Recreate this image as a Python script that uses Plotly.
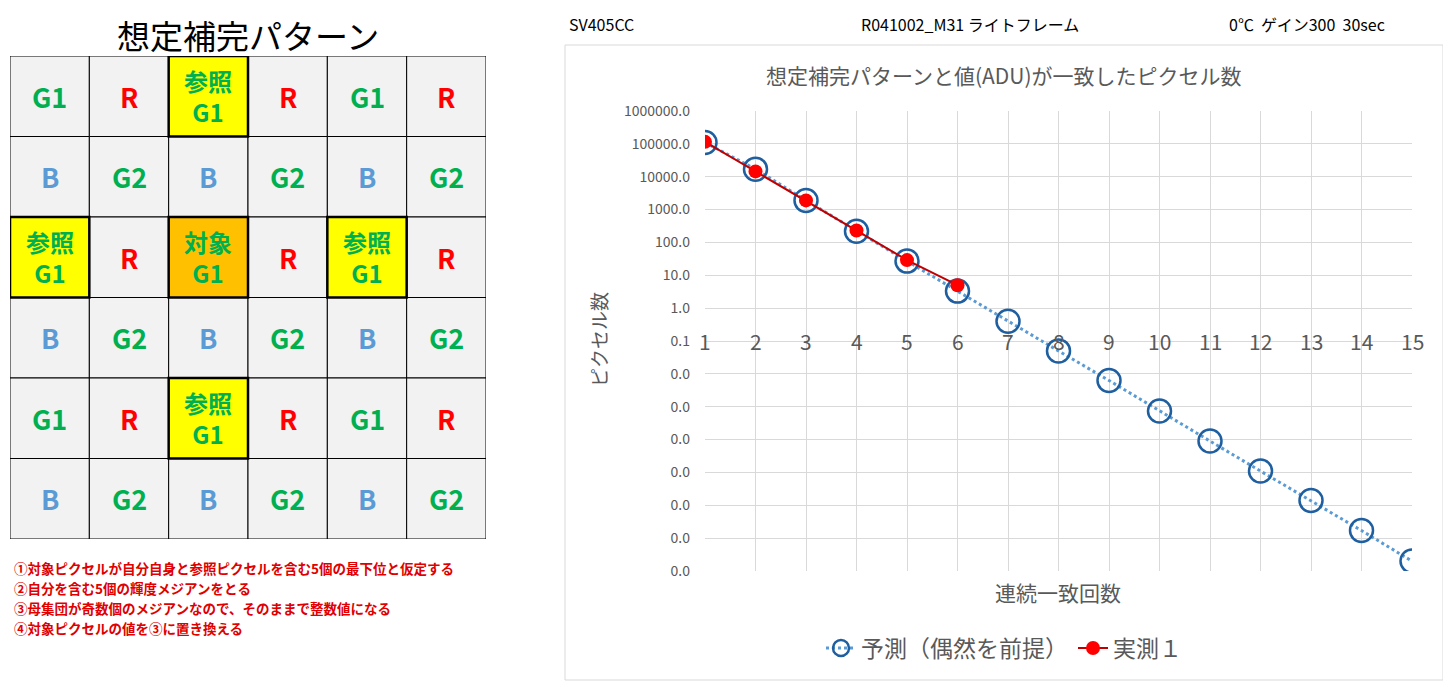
import plotly.graph_objects as go

# ---- data ----
x_counts = list(range(1, 16))
predicted = [110000, 17000, 1900, 220, 27, 3.3, 0.4, 0.05, 0.0063, 0.00074,
             0.00009, 0.000011, 0.0000014, 0.00000017, 0.00000002]
measured_x = [1, 2, 3, 4, 5, 6]
measured = [115000, 14500, 1900, 230, 29, 5]
y_tickvals = [1e6, 1e5, 1e4, 1e3, 1e2, 1e1, 1, 0.1, 0.01, 1e-3, 1e-4, 1e-5, 1e-6, 1e-7, 1e-8]
y_ticktext = ["1000000.0", "100000.0", "10000.0", "1000.0", "100.0", "10.0", "1.0", "0.1",
              "0.0", "0.0", "0.0", "0.0", "0.0", "0.0", "0.0"]

grid_labels = [
    ["G1", "R", "参照<br>G1", "R", "G1", "R"],
    ["B", "G2", "B", "G2", "B", "G2"],
    ["参照<br>G1", "R", "対象<br>G1", "R", "参照<br>G1", "R"],
    ["B", "G2", "B", "G2", "B", "G2"],
    ["G1", "R", "参照<br>G1", "R", "G1", "R"],
    ["B", "G2", "B", "G2", "B", "G2"],
]
notes = ["①対象ピクセルが自分自身と参照ピクセルを含む5個の最下位と仮定する",
         "②自分を含む5個の輝度メジアンをとる",
         "③母集団が奇数個のメジアンなので、そのままで整数値になる",
         "④対象ピクセルの値を③に置き換える"]

W, H = 1451, 690
OFF = 8  # page body margin
FONT = "Noto Sans CJK JP"
GRAY = "#595959"

def px(X):
    return (X - OFF) / W

def py(Y):
    return 1 - (Y - OFF) / H

fig = go.Figure()
fig.add_trace(go.Scatter(x=x_counts, y=predicted, name="予測（偶然を前提）", mode="lines+markers",
                         line=dict(color="#5b9bd5", width=3, dash="dot"),
                         marker=dict(symbol="circle-open", size=23, color="#1f5fa0", line=dict(width=2.5))))
fig.add_trace(go.Scatter(x=measured_x, y=measured, name="実測１", mode="lines+markers",
                         line=dict(color="#c00000", width=2),
                         marker=dict(symbol="circle", size=14, color="#ff0000")))

shapes = []
ann = []
shapes.append(dict(type="rect", xref="paper", yref="paper", x0=px(565), x1=px(1443),
                   y0=py(680), y1=py(45), line=dict(color="#d9d9d9", width=1), layer="below"))
for v in x_counts:
    ann.append(dict(x=v, y=-1, xref="x", yref="y", text=str(v), showarrow=False,
                    font=dict(size=21, color=GRAY, family=FONT)))

def style(lbl):
    if "対象" in lbl:
        return "#ffc000", "#00b050", True
    if "参照" in lbl:
        return "#ffff00", "#00b050", True
    if lbl.startswith("G"):
        return "#f2f2f2", "#00b050", False
    if lbl == "R":
        return "#f2f2f2", "#ff0000", False
    return "#f2f2f2", "#5b9bd5", False

for bold_pass in (False, True):
    for r, row in enumerate(grid_labels):
        for c, lbl in enumerate(row):
            fill, tc, bold = style(lbl)
            if bold != bold_pass:
                continue
            shapes.append(dict(type="rect", xref="x2", yref="y2", x0=c, x1=c+1, y0=r, y1=r+1,
                               fillcolor=fill, line=dict(color="#000000", width=2.5 if bold else 1),
                               layer="below"))
for r, row in enumerate(grid_labels):
    for c, lbl in enumerate(row):
        fill, tc, bold = style(lbl)
        two = "<br>" in lbl
        ann.append(dict(x=c+0.5, y=r+0.5, xref="x2", yref="y2", text="<b>%s</b>" % lbl, showarrow=False,
                        font=dict(size=24 if two else 27, color=tc, family=FONT)))

def pa(x, y, text, size, color="#000000", xanchor="center", **kw):
    ann.append(dict(x=px(x), y=py(y), xref="paper", yref="paper", text=text, showarrow=False,
                    xanchor=xanchor, yanchor="middle", font=dict(size=size, color=color, family=FONT), **kw))

pa(248, 35, "想定補完パターン", 33)
pa(567, 24, "SV405CC", 16, xanchor="left")
pa(970, 24, "R041002_M31 ライトフレーム", 16)
pa(1307, 24, "0℃  ゲイン300  30sec", 16)
pa(1004, 75, "想定補完パターンと値(ADU)が一致したピクセル数", 21, GRAY)
pa(1058, 592, "連続一致回数", 21, GRAY)
pa(598, 340, "ピクセル数", 19, GRAY, textangle=-90)
for i, t in enumerate(notes):
    pa(12, 568 + 20*i, "<b>%s</b>" % t, 13.5, "#e00000", xanchor="left")

fig.update_layout(
    width=W, height=H, margin=dict(l=0, r=0, t=0, b=0, autoexpand=False),
    paper_bgcolor="white", plot_bgcolor="white",
    font=dict(family=FONT, color=GRAY),
    shapes=shapes, annotations=ann,
    xaxis=dict(domain=[px(705), px(1412)], range=[1, 15], tickvals=x_counts, showticklabels=False,
               showgrid=True, gridcolor="#d9d9d9", zeroline=False, showline=False),
    yaxis=dict(domain=[py(571), py(111)], type="log", range=[-8, 6], tickvals=y_tickvals,
               ticktext=y_ticktext, showgrid=True, gridcolor="#d9d9d9", zeroline=False,
               tickfont=dict(size=14, color=GRAY), ticks="", ticklabelstandoff=14),
    xaxis2=dict(domain=[px(10), px(486)], range=[0, 6], visible=False, anchor="y2"),
    yaxis2=dict(domain=[py(539), py(56)], range=[6, 0], visible=False, anchor="x2"),
    legend=dict(orientation="h", x=px(1004), xanchor="center", y=py(648), yanchor="middle",
                font=dict(size=23, color=GRAY, family=FONT)),
)
fig.write_html("out.html")
